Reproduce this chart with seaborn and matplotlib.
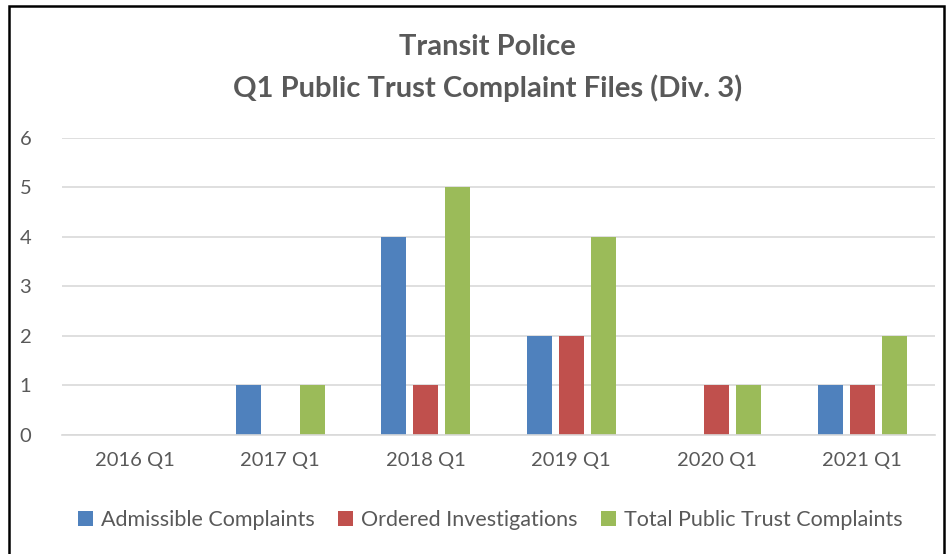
import pandas as pd
import seaborn as sns
import matplotlib.pyplot as plt
from matplotlib.patches import Rectangle

quarters = ['2016 Q1', '2017 Q1', '2018 Q1', '2019 Q1', '2020 Q1', '2021 Q1']
admissible = [0, 1, 4, 2, 0, 1]
ordered = [0, 0, 1, 2, 1, 1]
total = [0, 1, 5, 4, 1, 2]
series = ['Admissible Complaints', 'Ordered Investigations', 'Total Public Trust Complaints']
colors = ['#4F81BD', '#C0504D', '#9BBB59']

df = pd.DataFrame({'quarter': quarters * 3,
                   'series': [series[0]] * 6 + [series[1]] * 6 + [series[2]] * 6,
                   'value': admissible + ordered + total})

sns.set_theme(style='white')
plt.rcParams['font.family'] = ['Lato', 'DejaVu Sans']
grey = '#595959'

fig = plt.figure(figsize=(9.52, 5.54), dpi=100)
ax = fig.add_axes([0.065, 0.215, 0.917, 0.536])
sns.barplot(data=df, x='quarter', y='value', hue='series', palette=colors,
            width=0.66, gap=0.22, ax=ax, legend=True, saturation=1, linewidth=0)

ax.set_ylim(0, 6)
ax.set_yticks(range(7))
ax.set_xlim(-0.5, 5.5)
ax.yaxis.grid(True, color='#D9D9D9', linewidth=1.2)
ax.set_axisbelow(True)
for s in ['top', 'right', 'left']:
    ax.spines[s].set_visible(False)
ax.spines['bottom'].set_color('#D9D9D9')
ax.spines['bottom'].set_linewidth(1.2)
ax.tick_params(axis='both', colors=grey, labelsize=14.5, length=0)
ax.tick_params(axis='y', pad=22)
ax.tick_params(axis='x', pad=12)
ax.set_xlabel('')
ax.set_ylabel('')

ax.legend(loc='center', bbox_to_anchor=(0.515, 0.061), bbox_transform=fig.transFigure,
          ncol=3, frameon=False, fontsize=15.5, labelcolor=grey,
          handlelength=0.7, handleheight=0.7, handletextpad=0.35, columnspacing=1.1)

fig.text(0.512, 0.915, 'Transit Police', ha='center', va='center',
         fontsize=21, fontweight='bold', color=grey)
fig.text(0.512, 0.841, 'Q1 Public Trust Complaint Files (Div. 3)', ha='center', va='center',
         fontsize=21, fontweight='bold', color=grey)

fig.patches.append(Rectangle((9 / 952, -0.02), 935 / 952, 1 - 6 / 554 + 0.02,
                             transform=fig.transFigure, fill=False,
                             edgecolor='black', linewidth=1.8))

fig.savefig('out.png', dpi=100)
